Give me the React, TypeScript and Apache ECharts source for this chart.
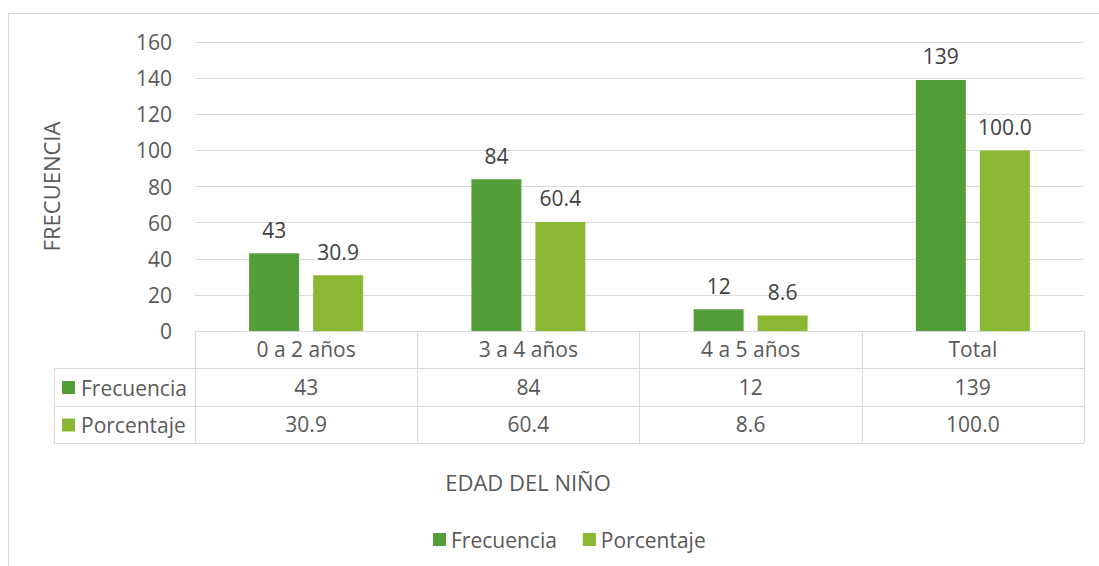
import React, { useEffect, useRef } from "react";
import * as echarts from "echarts";

const categories = ["0 a 2 años", "3 a 4 años", "4 a 5 años", "Total"];
const frecuencia = [43, 84, 12, 139];
const porcentaje = [30.9, 60.4, 8.6, 100.0];
const seriesNames = ["Frecuencia", "Porcentaje"];
const colors = ["#549E39", "#8AB833"];
const yTitle = "FRECUENCIA";
const xTitle = "EDAD DEL NIÑO";

const FONT = "'Open Sans', 'Liberation Sans', sans-serif";
const TXT = "#595959";
const GRIDC = "#d9d9d9";
const FS = 21;

const GL = 195, GR = 1084, GT = 42, GB = 331;
const ROW1 = 368, ROW2 = 406, ROW3 = 443, TBL_L = 54;

export default function App() {
  const ref = useRef<HTMLDivElement>(null);
  useEffect(() => {
    if (!ref.current) return;
    const chart = echarts.init(ref.current, undefined, { renderer: "svg" });
    const rowVals = [frecuencia.map(String), porcentaje.map((v) => v.toFixed(1))];
    const graphic: any[] = [
      { type: "rect", shape: { x: 8.5, y: 13.5, width: 1200, height: 700 }, style: { fill: "none", stroke: GRIDC, lineWidth: 1 }, silent: true },
      ...[ROW1, ROW2, ROW3].map((y) => ({ type: "line", shape: { x1: TBL_L, y1: y + 0.5, x2: GR, y2: y + 0.5 }, style: { stroke: GRIDC, lineWidth: 1 } })),
      { type: "line", shape: { x1: TBL_L + 0.5, y1: ROW1, x2: TBL_L + 0.5, y2: ROW3 }, style: { stroke: GRIDC, lineWidth: 1 } },
      ...seriesNames.flatMap((n, i) => {
        const cy = (i === 0 ? (ROW1 + ROW2) / 2 : (ROW2 + ROW3) / 2) + 0.5;
        return [
          { type: "rect", shape: { x: 62, y: cy - 6.5, width: 13, height: 13 }, style: { fill: colors[i] } },
          { type: "text", x: 81, y: cy, style: { text: n, fill: TXT, font: `${FS}px ${FONT}`, textVerticalAlign: "middle", textAlign: "left" } },
        ];
      }),
      { type: "text", x: 528, y: 482, style: { text: xTitle, fill: TXT, font: `22px ${FONT}`, textAlign: "center", textVerticalAlign: "middle" } },
    ];
    chart.setOption({
      animation: false,
      textStyle: { fontFamily: FONT },
      grid: { left: GL, right: 1099 - GR, top: GT, bottom: 566 - GB, containLabel: false },
      legend: {
        data: seriesNames,
        left: 428,
        top: 524,
        icon: "rect",
        itemWidth: 13,
        itemHeight: 13,
        itemGap: 26,
        textStyle: { color: TXT, fontSize: FS, fontFamily: FONT },
      },
      xAxis: [
        {
          type: "category",
          data: categories,
          axisLine: { lineStyle: { color: GRIDC, width: 1 } },
          axisTick: { show: true, length: ROW3 - GB, lineStyle: { color: GRIDC } },
          axisLabel: { color: TXT, fontSize: FS, margin: 7, fontFamily: FONT },
        },
        ...rowVals.map((vals, i) => ({
          type: "category",
          data: vals,
          position: "bottom",
          offset: i === 0 ? 37 : 74,
          axisLine: { show: false },
          axisTick: { show: false },
          axisLabel: { color: TXT, fontSize: FS, margin: 8, fontFamily: FONT },
        })),
      ],
      yAxis: {
        type: "value",
        min: 0,
        max: 160,
        interval: 20,
        name: yTitle,
        nameLocation: "middle",
        nameGap: 133,
        nameRotate: 90,
        nameTextStyle: { color: TXT, fontSize: 22, fontFamily: FONT },
        axisLine: { show: false },
        axisTick: { show: false },
        axisLabel: { color: TXT, fontSize: FS, margin: 23, fontFamily: FONT },
        splitLine: { lineStyle: { color: GRIDC, width: 1 } },
      },
      series: [
        {
          name: seriesNames[0],
          type: "bar",
          data: frecuencia,
          barWidth: 50,
          barGap: "28%",
          itemStyle: { color: colors[0] },
          label: { show: true, position: "top", distance: 13, color: "#404040", fontSize: FS, fontFamily: FONT },
        },
        {
          name: seriesNames[1],
          type: "bar",
          data: porcentaje,
          barWidth: 50,
          barGap: "28%",
          itemStyle: { color: colors[1] },
          label: { show: true, position: "top", distance: 13, color: "#404040", fontSize: FS, fontFamily: FONT, formatter: (p: any) => Number(p.value).toFixed(1) },
        },
      ],
      graphic,
    });
    return () => chart.dispose();
  }, []);
  return <div ref={ref} style={{ position: "fixed", left: 0, top: 0, width: 1099, height: 566, background: "#fff" }} />;
}
